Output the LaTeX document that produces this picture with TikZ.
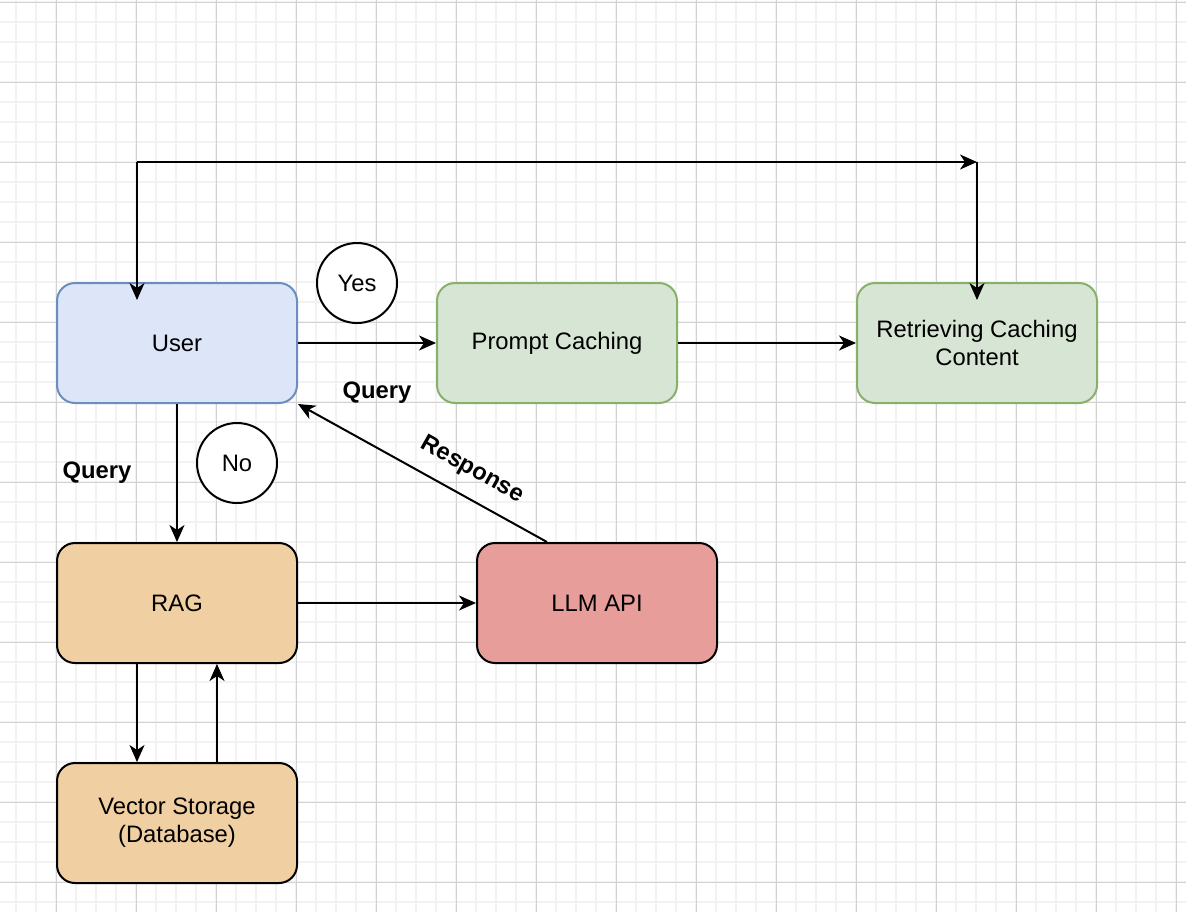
\documentclass[tikz,border=0pt]{standalone}
\usepackage{fontspec}
\setmainfont{Liberation Sans}
\usetikzlibrary{arrows.meta}
\definecolor{userfill}{HTML}{DDE6F8}
\definecolor{userline}{HTML}{6C8EBF}
\definecolor{cachefill}{HTML}{D7E6D4}
\definecolor{cacheline}{HTML}{88B06A}
\definecolor{ragfill}{HTML}{F0CFA2}
\definecolor{llmfill}{HTML}{E79D9A}
\definecolor{gridminor}{HTML}{F2F2F2}
\definecolor{gridmajor}{HTML}{D2D2D2}
\begin{document}
\begin{tikzpicture}[x=0.5pt,y=-0.5pt,>={Stealth[length=8.5pt,width=7.5pt,inset=2.5pt]}]
\tikzstyle{box}=[draw, line width=1pt, rounded corners=9pt, minimum width=120pt, minimum height=60pt, align=center, font=\fontsize{11.9}{14}\selectfont]
\tikzstyle{answer}=[draw, circle, fill=white, line width=1pt, minimum size=40pt, inner sep=0pt, font=\fontsize{11.9}{14}\selectfont]
\tikzstyle{lbl}=[font=\bfseries\fontsize{11.9}{14}\selectfont, inner sep=1pt]
\tikzstyle{arr}=[->, line width=1pt]
\useasboundingbox (0,0) rectangle (1186,912);
\fill[white] (0,0) rectangle (1186,912);
% grid
\foreach \x in {16,36,...,1176} \draw[gridminor, line width=1pt] (\x,0) -- (\x,912);
\foreach \y in {2,22,...,902} \draw[gridminor, line width=1pt] (0,\y) -- (1186,\y);
\foreach \x in {56,136,...,1176} \draw[gridmajor, line width=0.5pt] (\x,0) -- (\x,912);
\foreach \y in {2,82,...,882} \draw[gridmajor, line width=0.5pt] (0,\y) -- (1186,\y);

\node [box, fill=userfill, draw=userline] (user) at (177,343) {User};
\node [box, fill=cachefill, draw=cacheline] (prompt) at (557,343) {Prompt Caching};
\node [box, fill=cachefill, draw=cacheline] (retrieve) at (977,343) {Retrieving Caching\\Content};
\node [box, fill=ragfill] (rag) at (177,603) {RAG};
\node [box, fill=llmfill] (llm) at (597,603) {LLM API};
\node [box, fill=ragfill] (vector) at (177,823) {Vector Storage\\(Database)};

\node [answer] (yes) at (357,283) {Yes};
\node [answer] (no) at (237,463) {No};

\node [lbl] (query1) at (97,473) {Query};
\node [lbl] (query2) at (377,393) {Query};
\node [lbl, rotate=-29.3] (response) at (472,470) {Response};

\coordinate (topleft) at (137,162);
\coordinate (topright) at (977,162);

\draw[arr] (topleft) -- (topright);
\draw[arr] (topright) -- ([yshift=-9pt]retrieve.north);
\draw[arr] (topleft) -- ([xshift=-20pt,yshift=-9pt]user.north);
\draw[arr] (user) -- (prompt);
\draw[arr] (prompt) -- (retrieve);
\draw[arr] (user) -- (rag);
\draw[arr] (rag) -- (llm);
\draw[arr] ([xshift=-25pt]llm.north) -- (user.south east);
\draw[arr] ([xshift=-20pt]rag.south) -- ([xshift=-20pt]vector.north);
\draw[arr] ([xshift=20pt]vector.north) -- ([xshift=20pt]rag.south);
\end{tikzpicture}
\end{document}
